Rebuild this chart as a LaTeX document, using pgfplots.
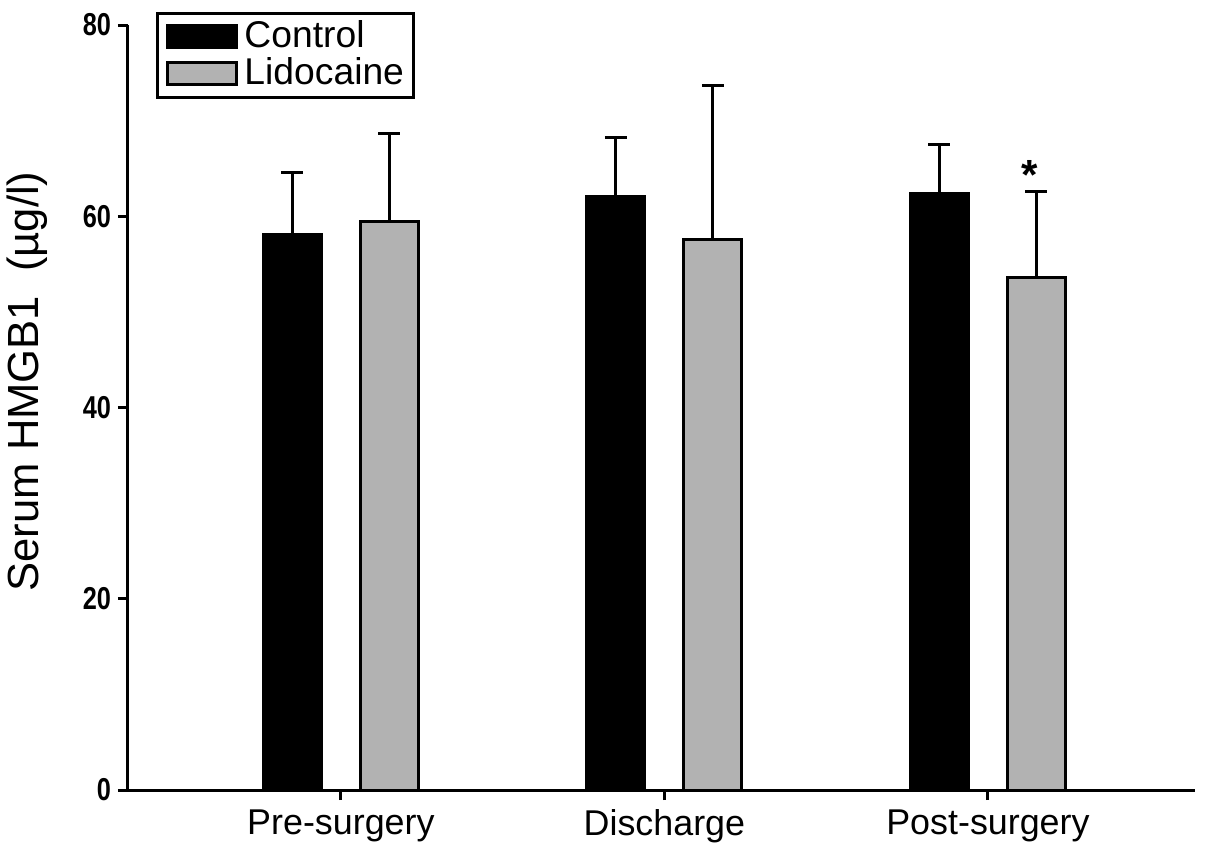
\documentclass[border=0pt]{standalone}
\usepackage{fontspec}
\setmainfont{Liberation Sans}
\usepackage{pgfplots}
\pgfplotsset{compat=1.18}

\definecolor{lidgray}{RGB}{178,178,178}

\pgfplotstableread{
x  y     e
0  58.1  6.5
1  62.1  6.1
2  62.4  5.1
}\controldata

\pgfplotstableread{
x  y     e
0  59.5  9.2
1  57.6  16.1
2  53.6  9.0
}\lidodata

\begin{document}
\begin{tikzpicture}
\begin{axis}[
  scale only axis,
  width=106.7mm, height=76.5mm,
  xmin=-0.658, xmax=2.64,
  ymin=0, ymax=80,
  ytick={0,20,40,60,80},
  xtick={0,1,2},
  xticklabels={Pre-surgery,Discharge,Post-surgery},
  axis lines=left,
  axis line style={-, line width=0.3mm},
  tick style={black, line width=0.3mm},
  major tick length=1mm,
  tick align=outside,
  /pgf/number format/assume math mode=true,
  yticklabel style={font=\fontsize{9}{10}\selectfont\bfseries, xscale=0.8, inner sep=0.8mm},
  xticklabel style={font=\fontsize{10.2}{12}\selectfont, inner sep=0.9mm},
  ylabel={Serum HMGB1\ \ (µg/l)},
  every axis y label/.style={at={(axis description cs:-0.0947,0.534)}, rotate=90, anchor=center,
    font=\fontsize{12.4}{13}\selectfont},
  ybar,
  bar width=0.179,
  legend style={at={(rel axis cs:0,1)}, anchor=north west, xshift=2.8mm, yshift=1.3mm,
    draw=black, line width=0.3mm, inner xsep=0.5mm, inner ysep=0.3mm,
    font=\fontsize{10.6}{12}\selectfont, cells={anchor=west},
    row sep=-0.3mm,
    nodes={inner xsep=0.5mm, inner ysep=0.4mm}},
  legend image code/.code={%
    \draw[#1, line width=0.3mm] (0.4mm,-1.1mm) rectangle (7.3mm,1.1mm);
    \path (0mm,0mm) (7.4mm,0mm);},
  error bars/y dir=plus,
  error bars/y explicit,
  error bars/error bar style={line width=0.3mm, black},
  error bars/error mark options={rotate=90, mark size=1.1mm, line width=0.3mm, black},
]
\addplot[fill=black, draw=black, line width=0.3mm, bar shift=-0.15]
  table[x=x, y=y, y error=e] {\controldata};
\addlegendentry{Control}
\addplot[fill=lidgray, draw=black, line width=0.3mm, bar shift=0.15]
  table[x=x, y=y, y error=e] {\lidodata};
\addlegendentry{Lidocaine}
\node[anchor=north, inner sep=0pt, font=\fontsize{12}{12}\selectfont\bfseries] at (axis cs:2.13,65.9) {*};
\coordinate (sw) at (rel axis cs:0,0);
\coordinate (ne) at (rel axis cs:1,1);
\end{axis}
\pgfresetboundingbox
\path[use as bounding box] ([xshift=-12.8mm,yshift=-6.6mm]sw) rectangle ([xshift=1mm,yshift=2.5mm]ne);
\end{tikzpicture}
\end{document}
